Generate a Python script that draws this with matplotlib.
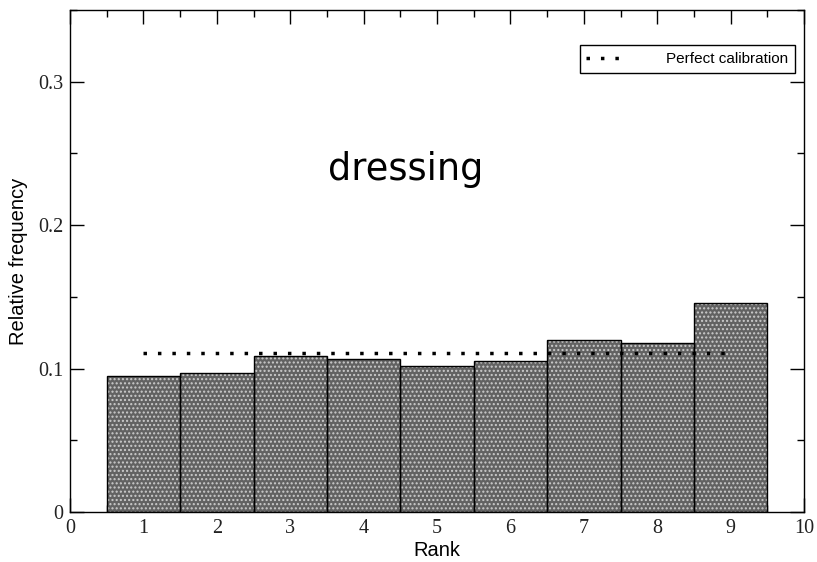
import matplotlib
matplotlib.use("Agg")
import matplotlib.pyplot as plt
from matplotlib.ticker import MultipleLocator

ranks = [1, 2, 3, 4, 5, 6, 7, 8, 9]
freqs = [0.095, 0.097, 0.109, 0.107, 0.102, 0.1055, 0.120, 0.1177, 0.146]
perfect_x = [1, 9]
perfect_y = [1/9, 1/9]
title_text = "dressing"

fig = plt.figure(figsize=(8.17, 5.62), dpi=100)
ax = fig.add_axes([70/817, 50/562, (804-70)/817, (512-10)/562])

plt.rcParams['hatch.linewidth'] = 1.0
ax.bar(ranks, freqs, width=1.0, color='#626262', edgecolor='#cccccc',
       hatch='....', linewidth=0, zorder=2)
ax.bar(ranks, freqs, width=1.0, color='none', edgecolor='black',
       linewidth=1.0, zorder=3)

ax.plot(perfect_x, perfect_y, color='black', linewidth=2.5,
        linestyle=(0, (1, 3.16)), label='Perfect calibration', zorder=4)

ax.set_xlim(0, 10)
ax.set_ylim(0, 0.35)
ax.xaxis.set_major_locator(MultipleLocator(1))
ax.xaxis.set_minor_locator(MultipleLocator(0.5))
ax.yaxis.set_major_locator(MultipleLocator(0.1))
ax.yaxis.set_minor_locator(MultipleLocator(0.05))
ax.set_yticks([0, 0.1, 0.2, 0.3])
ax.set_yticklabels(['0', '0.1', '0.2', '0.3'])
ax.tick_params(which='both', direction='in', top=True, right=True)
ax.tick_params(which='major', length=10, width=1.0, pad=5)
ax.tick_params(which='minor', length=5, width=1.0)
for lab in ax.get_xticklabels() + ax.get_yticklabels():
    lab.set_fontfamily('Liberation Serif')
    lab.set_fontsize(14.5)
    lab.set_color('#222222')
for s in ax.spines.values():
    s.set_linewidth(1.0)

ax.set_xlabel('Rank', fontfamily='Liberation Sans', fontsize=14.5, labelpad=2)
ax.set_ylabel('Relative frequency', fontfamily='Liberation Sans', fontsize=14.5, labelpad=7)

ax.text(4.58, 0.2387, title_text, fontsize=26.5, fontfamily='DejaVu Sans',
        ha='center', va='center')

leg = ax.legend(loc='upper right', bbox_to_anchor=(0.9875, 0.9303),
                fancybox=False, edgecolor='black', framealpha=1,
                prop={'family': 'Liberation Sans', 'size': 11},
                handlelength=2.6, handletextpad=2.6, borderpad=0.45,
                borderaxespad=0)
leg.get_frame().set_linewidth(1.0)

fig.savefig('out.png', dpi=100)
